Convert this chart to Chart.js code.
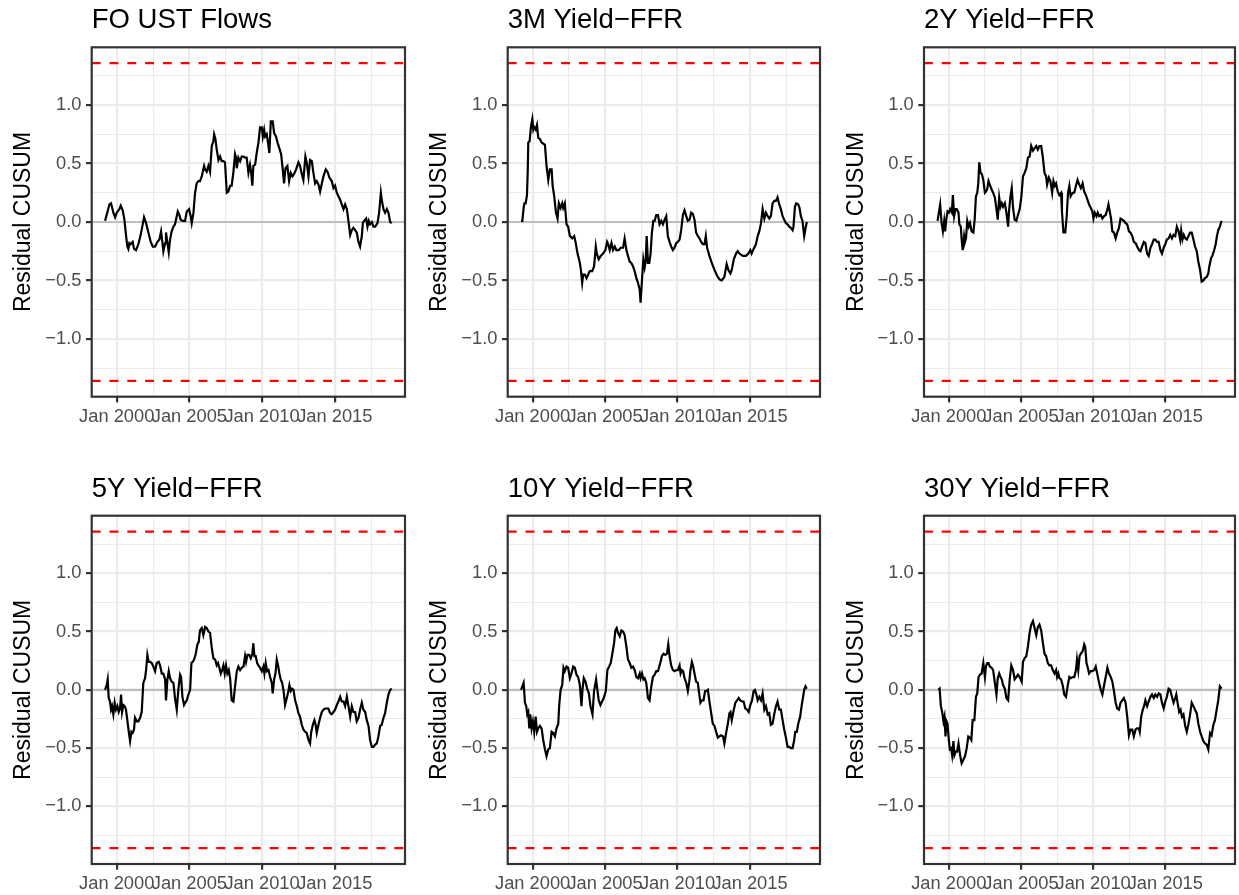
<!DOCTYPE html>
<html>
<head>
<meta charset="utf-8">
<script src="https://cdn.jsdelivr.net/npm/chart.js@4.4.1/dist/chart.umd.min.js"></script>
<style>
  html, body { margin: 0; padding: 0; background: #ffffff; }
  #wrap { position: relative; width: 1239px; height: 895px; overflow: hidden; }
  #wrap canvas { position: absolute; }
</style>
</head>
<body>
<div id="wrap"></div>
<script>
// ---- Data (decimal years, residual CUSUM values) ----

const foDates = [
  1999.20, 1999.50, 1999.61, 1999.77, 1999.89, 2000.00, 2000.18, 2000.28, 2000.41, 2000.53,
  2000.62, 2000.73, 2000.80, 2000.87, 2000.96, 2001.10, 2001.19, 2001.33, 2001.49, 2001.65,
  2001.79, 2001.88, 2002.02, 2002.18, 2002.34, 2002.48, 2002.64, 2002.80, 2002.94, 2003.05,
  2003.14, 2003.21, 2003.33, 2003.39, 2003.49, 2003.58, 2003.67, 2003.78, 2003.90, 2004.01,
  2004.13, 2004.20, 2004.31, 2004.40, 2004.54, 2004.70, 2004.82, 2004.98, 2005.09, 2005.16,
  2005.28, 2005.39, 2005.50, 2005.62, 2005.73, 2005.85, 2006.01, 2006.08, 2006.19, 2006.31,
  2006.42, 2006.54, 2006.65, 2006.70, 2006.79, 2006.88, 2007.00, 2007.11, 2007.22, 2007.34,
  2007.45, 2007.57, 2007.68, 2007.80, 2007.91, 2008.03, 2008.14, 2008.21, 2008.26, 2008.37,
  2008.49, 2008.60, 2008.72, 2008.83, 2008.94, 2009.06, 2009.17, 2009.24, 2009.33, 2009.40,
  2009.52, 2009.63, 2009.75, 2009.86, 2009.98, 2010.05, 2010.14, 2010.21, 2010.32, 2010.44,
  2010.50, 2010.60, 2010.73, 2010.83, 2010.96, 2011.06, 2011.19, 2011.31, 2011.42, 2011.51,
  2011.61, 2011.74, 2011.86, 2011.97, 2012.09, 2012.20, 2012.34, 2012.50, 2012.61, 2012.73,
  2012.84, 2012.98, 2013.07, 2013.19, 2013.30, 2013.42, 2013.53, 2013.65, 2013.76, 2013.88,
  2013.99, 2014.11, 2014.22, 2014.38, 2014.50, 2014.63, 2014.79, 2014.91, 2015.02, 2015.14,
  2015.25, 2015.37, 2015.48, 2015.60, 2015.71, 2015.83, 2015.94, 2016.06, 2016.17, 2016.28,
  2016.40, 2016.51, 2016.63, 2016.74, 2016.86, 2016.93, 2017.02, 2017.16, 2017.25, 2017.34,
  2017.43, 2017.55, 2017.66, 2017.78, 2017.94, 2018.05, 2018.17, 2018.23, 2018.35, 2018.46,
  2018.58, 2018.69, 2018.81, 2018.92
];
const foValues = [
  0.01, 0.15, 0.16, 0.08, 0.04, 0.08, 0.11, 0.14, 0.10, 0.02,
  -0.09, -0.21, -0.23, -0.18, -0.19, -0.17, -0.23, -0.24, -0.19, -0.11,
  -0.02, 0.04, -0.01, -0.09, -0.17, -0.21, -0.21, -0.17, -0.15, -0.08,
  -0.17, -0.25, -0.18, -0.09, -0.18, -0.26, -0.15, -0.08, -0.04, -0.02,
  0.05, 0.09, 0.06, 0.02, 0.01, 0.01, 0.09, 0.11, 0.05, -0.01,
  0.08, 0.25, 0.33, 0.35, 0.35, 0.39, 0.48, 0.45, 0.43, 0.48,
  0.43, 0.65, 0.69, 0.75, 0.71, 0.62, 0.53, 0.56, 0.52, 0.52,
  0.51, 0.25, 0.26, 0.31, 0.31, 0.43, 0.58, 0.55, 0.46, 0.55,
  0.52, 0.56, 0.56, 0.55, 0.55, 0.42, 0.49, 0.43, 0.31, 0.48,
  0.49, 0.59, 0.68, 0.81, 0.81, 0.73, 0.79, 0.73, 0.75, 0.65,
  0.59, 0.86, 0.86, 0.76, 0.73, 0.68, 0.63, 0.58, 0.45, 0.33,
  0.46, 0.48, 0.35, 0.42, 0.39, 0.41, 0.45, 0.51, 0.48, 0.41,
  0.36, 0.56, 0.51, 0.39, 0.53, 0.52, 0.42, 0.33, 0.35, 0.32,
  0.26, 0.33, 0.39, 0.45, 0.43, 0.38, 0.35, 0.29, 0.31, 0.25,
  0.22, 0.19, 0.15, 0.11, 0.15, 0.11, 0.01, -0.11, -0.07, -0.05,
  -0.07, -0.09, -0.17, -0.21, -0.12, -0.01, 0.01, 0.03, -0.04, 0.01,
  -0.02, 0.00, -0.04, -0.04, -0.01, 0.08, 0.25, 0.19, 0.11, 0.08,
  0.11, 0.08, 0.00, -0.01
];

const y3mDates = [
  1999.20, 1999.29, 1999.38, 1999.43, 1999.52, 1999.61, 1999.66, 1999.70, 1999.79, 1999.89,
  1999.98, 2000.05, 2000.11, 2000.21, 2000.30, 2000.39, 2000.50, 2000.62, 2000.85, 2000.96,
  2001.08, 2001.19, 2001.31, 2001.38, 2001.49, 2001.61, 2001.72, 2001.81, 2001.93, 2002.04,
  2002.11, 2002.22, 2002.34, 2002.45, 2002.57, 2002.73, 2002.87, 2002.96, 2003.10, 2003.26,
  2003.33, 2003.42, 2003.49, 2003.60, 2003.72, 2003.83, 2003.94, 2004.11, 2004.24, 2004.36,
  2004.43, 2004.56, 2004.70, 2004.86, 2005.02, 2005.14, 2005.21, 2005.32, 2005.44, 2005.55,
  2005.67, 2005.78, 2005.94, 2006.08, 2006.24, 2006.35, 2006.47, 2006.58, 2006.70, 2006.81,
  2006.93, 2007.04, 2007.16, 2007.27, 2007.39, 2007.45, 2007.55, 2007.64, 2007.73, 2007.80,
  2007.87, 2007.96, 2008.05, 2008.14, 2008.23, 2008.33, 2008.42, 2008.53, 2008.65, 2008.76,
  2008.88, 2008.99, 2009.11, 2009.22, 2009.33, 2009.45, 2009.56, 2009.68, 2009.79, 2009.91,
  2010.02, 2010.14, 2010.25, 2010.37, 2010.48, 2010.60, 2010.71, 2010.83, 2010.94, 2011.06,
  2011.17, 2011.28, 2011.40, 2011.51, 2011.63, 2011.74, 2011.86, 2011.95, 2012.04, 2012.20,
  2012.36, 2012.55, 2012.73, 2012.89, 2013.05, 2013.23, 2013.39, 2013.51, 2013.65, 2013.74,
  2013.88, 2014.04, 2014.15, 2014.27, 2014.50, 2014.72, 2014.89, 2015.02, 2015.11, 2015.25,
  2015.41, 2015.53, 2015.64, 2015.76, 2015.87, 2015.99, 2016.10, 2016.22, 2016.33, 2016.44,
  2016.56, 2016.67, 2016.79, 2016.90, 2017.02, 2017.13, 2017.25, 2017.36, 2017.48, 2017.59,
  2017.71, 2017.82, 2017.94, 2018.00, 2018.10, 2018.19, 2018.33, 2018.42, 2018.51, 2018.62,
  2018.74, 2018.81, 2018.92
];
const y3mValues = [
  0.01, 0.01, 0.12, 0.16, 0.16, 0.23, 0.42, 0.68, 0.69, 0.82,
  0.88, 0.79, 0.81, 0.79, 0.83, 0.72, 0.71, 0.68, 0.66, 0.48,
  0.36, 0.45, 0.45, 0.31, 0.22, 0.08, 0.03, 0.16, 0.12, 0.16,
  0.12, 0.16, -0.02, -0.04, -0.12, -0.14, -0.12, -0.17, -0.27, -0.35,
  -0.41, -0.52, -0.45, -0.45, -0.48, -0.45, -0.42, -0.42, -0.38, -0.21,
  -0.27, -0.32, -0.29, -0.27, -0.24, -0.17, -0.19, -0.24, -0.18, -0.24,
  -0.21, -0.24, -0.24, -0.22, -0.22, -0.14, -0.24, -0.29, -0.34, -0.35,
  -0.38, -0.42, -0.48, -0.52, -0.58, -0.69, -0.49, -0.32, -0.39, -0.34,
  -0.12, -0.35, -0.35, -0.27, -0.09, 0.01, 0.01, 0.06, 0.06, -0.02,
  0.01, -0.02, 0.02, 0.05, -0.12, -0.17, -0.21, -0.24, -0.22, -0.18,
  -0.17, -0.15, -0.07, 0.06, 0.10, 0.05, 0.01, 0.02, 0.08, 0.07,
  0.02, -0.09, -0.12, -0.14, -0.17, -0.19, -0.19, -0.12, -0.22, -0.29,
  -0.35, -0.41, -0.46, -0.49, -0.50, -0.47, -0.36, -0.41, -0.44, -0.41,
  -0.32, -0.27, -0.25, -0.27, -0.29, -0.29, -0.27, -0.24, -0.27, -0.23,
  -0.19, -0.12, -0.08, -0.01, 0.11, 0.03, 0.08, 0.05, 0.03, 0.05,
  0.16, 0.18, 0.18, 0.21, 0.15, 0.11, 0.05, 0.02, -0.01, -0.02,
  -0.04, -0.05, -0.07, -0.04, 0.13, 0.16, 0.15, 0.12, 0.05, 0.01,
  -0.12, -0.07, 0.00
];

const y2yDates = [
  1999.22, 1999.31, 1999.40, 1999.50, 1999.59, 1999.68, 1999.75, 1999.82, 1999.91, 2000.00,
  2000.09, 2000.21, 2000.28, 2000.37, 2000.46, 2000.55, 2000.67, 2000.73, 2000.83, 2000.89,
  2000.96, 2001.06, 2001.12, 2001.19, 2001.28, 2001.38, 2001.47, 2001.58, 2001.70, 2001.79,
  2001.88, 2001.97, 2002.04, 2002.11, 2002.20, 2002.29, 2002.39, 2002.50, 2002.57, 2002.66,
  2002.75, 2002.84, 2002.96, 2003.07, 2003.19, 2003.30, 2003.39, 2003.49, 2003.58, 2003.67,
  2003.76, 2003.88, 2003.99, 2004.11, 2004.17, 2004.27, 2004.36, 2004.45, 2004.56, 2004.68,
  2004.79, 2004.91, 2005.02, 2005.14, 2005.25, 2005.37, 2005.48, 2005.60, 2005.71, 2005.83,
  2005.94, 2006.06, 2006.17, 2006.28, 2006.40, 2006.51, 2006.63, 2006.74, 2006.81, 2006.93,
  2007.04, 2007.16, 2007.25, 2007.34, 2007.43, 2007.55, 2007.66, 2007.78, 2007.84, 2007.94,
  2008.07, 2008.17, 2008.26, 2008.35, 2008.44, 2008.58, 2008.69, 2008.81, 2008.92, 2009.04,
  2009.15, 2009.27, 2009.38, 2009.50, 2009.61, 2009.72, 2009.84, 2009.95, 2010.02, 2010.11,
  2010.23, 2010.32, 2010.41, 2010.53, 2010.64, 2010.76, 2010.87, 2010.99, 2011.06, 2011.15,
  2011.24, 2011.33, 2011.44, 2011.56, 2011.67, 2011.79, 2011.90, 2012.02, 2012.13, 2012.25,
  2012.36, 2012.48, 2012.59, 2012.71, 2012.82, 2012.94, 2013.05, 2013.17, 2013.28, 2013.39,
  2013.51, 2013.62, 2013.74, 2013.85, 2013.97, 2014.08, 2014.20, 2014.31, 2014.43, 2014.54,
  2014.66, 2014.77, 2014.89, 2015.00, 2015.11, 2015.23, 2015.34, 2015.46, 2015.57, 2015.69,
  2015.80, 2015.92, 2016.03, 2016.10, 2016.19, 2016.28, 2016.38, 2016.49, 2016.61, 2016.72,
  2016.83, 2016.95, 2017.06, 2017.18, 2017.29, 2017.41, 2017.52, 2017.64, 2017.75, 2017.87,
  2017.98, 2018.05, 2018.17, 2018.26, 2018.39, 2018.49, 2018.58, 2018.67, 2018.78, 2018.90
];
const y2yValues = [
  0.01, 0.08, 0.15, -0.01, -0.08, 0.01, -0.08, 0.02, 0.09, 0.08,
  0.11, 0.08, 0.23, 0.05, 0.11, 0.11, 0.08, -0.02, -0.04, -0.15,
  -0.24, -0.12, -0.17, -0.14, 0.01, -0.04, -0.01, -0.08, -0.09, 0.02,
  0.22, 0.25, 0.33, 0.51, 0.42, 0.41, 0.36, 0.25, 0.26, 0.28,
  0.35, 0.32, 0.28, 0.25, 0.21, 0.11, 0.02, 0.21, 0.13, 0.16,
  0.13, 0.16, 0.08, -0.04, 0.09, 0.22, 0.29, 0.12, 0.02, 0.01,
  0.06, 0.11, 0.21, 0.39, 0.42, 0.46, 0.55, 0.56, 0.65, 0.61,
  0.63, 0.65, 0.62, 0.65, 0.65, 0.56, 0.42, 0.39, 0.32, 0.38,
  0.35, 0.25, 0.35, 0.31, 0.33, 0.26, 0.23, 0.25, 0.09, -0.09,
  -0.09, 0.05, 0.25, 0.31, 0.22, 0.25, 0.25, 0.31, 0.36, 0.32,
  0.29, 0.33, 0.26, 0.23, 0.19, 0.15, 0.12, 0.09, 0.03, 0.08,
  0.05, 0.08, 0.05, 0.06, 0.03, 0.05, 0.06, 0.11, 0.15, 0.09,
  0.03, -0.08, -0.09, -0.14, -0.09, -0.05, 0.03, 0.02, 0.01, -0.01,
  -0.02, -0.08, -0.09, -0.12, -0.17, -0.18, -0.21, -0.24, -0.25, -0.21,
  -0.17, -0.18, -0.27, -0.29, -0.22, -0.19, -0.15, -0.15, -0.17, -0.17,
  -0.24, -0.27, -0.22, -0.19, -0.15, -0.14, -0.11, -0.14, -0.11, -0.12,
  -0.04, -0.08, -0.15, -0.07, -0.15, -0.11, -0.14, -0.15, -0.12, -0.09,
  -0.09, -0.15, -0.21, -0.25, -0.34, -0.41, -0.51, -0.50, -0.48, -0.47,
  -0.44, -0.38, -0.31, -0.29, -0.24, -0.19, -0.12, -0.07, -0.04, 0.01
];

const y5yDates = [
  1999.20, 1999.31, 1999.38, 1999.45, 1999.54, 1999.61, 1999.68, 1999.77, 1999.86, 1999.95,
  2000.05, 2000.14, 2000.23, 2000.30, 2000.37, 2000.46, 2000.55, 2000.64, 2000.73, 2000.83,
  2000.92, 2001.01, 2001.10, 2001.19, 2001.26, 2001.38, 2001.49, 2001.61, 2001.72, 2001.83,
  2001.95, 2002.02, 2002.11, 2002.20, 2002.29, 2002.41, 2002.52, 2002.64, 2002.75, 2002.89,
  2002.98, 2003.10, 2003.21, 2003.33, 2003.39, 2003.49, 2003.58, 2003.67, 2003.78, 2003.90,
  2004.01, 2004.13, 2004.24, 2004.36, 2004.43, 2004.52, 2004.63, 2004.72, 2004.82, 2004.93,
  2005.05, 2005.14, 2005.23, 2005.32, 2005.44, 2005.55, 2005.64, 2005.73, 2005.85, 2005.96,
  2006.08, 2006.19, 2006.31, 2006.42, 2006.54, 2006.65, 2006.77, 2006.88, 2006.97, 2007.06,
  2007.16, 2007.25, 2007.34, 2007.43, 2007.52, 2007.61, 2007.71, 2007.80, 2007.91, 2008.03,
  2008.14, 2008.26, 2008.37, 2008.49, 2008.60, 2008.72, 2008.83, 2008.90, 2008.99, 2009.11,
  2009.22, 2009.33, 2009.40, 2009.47, 2009.56, 2009.66, 2009.75, 2009.86, 2009.98, 2010.09,
  2010.16, 2010.25, 2010.34, 2010.44, 2010.55, 2010.67, 2010.73, 2010.83, 2010.92, 2011.01,
  2011.10, 2011.19, 2011.28, 2011.38, 2011.47, 2011.58, 2011.70, 2011.81, 2011.88, 2011.97,
  2012.06, 2012.16, 2012.27, 2012.39, 2012.50, 2012.61, 2012.73, 2012.84, 2012.96, 2013.07,
  2013.19, 2013.30, 2013.37, 2013.49, 2013.60, 2013.67, 2013.76, 2013.88, 2013.99, 2014.11,
  2014.22, 2014.33, 2014.45, 2014.56, 2014.68, 2014.79, 2014.91, 2015.02, 2015.14, 2015.25,
  2015.37, 2015.48, 2015.60, 2015.71, 2015.83, 2015.94, 2016.06, 2016.17, 2016.28, 2016.40,
  2016.51, 2016.63, 2016.74, 2016.86, 2016.97, 2017.09, 2017.20, 2017.32, 2017.43, 2017.55,
  2017.66, 2017.78, 2017.89, 2018.00, 2018.12, 2018.23, 2018.35, 2018.46, 2018.58, 2018.69,
  2018.81, 2018.92
];
const y5yValues = [
  0.00, 0.04, 0.09, -0.07, -0.10, -0.17, -0.14, -0.21, -0.11, -0.17,
  -0.14, -0.19, -0.16, -0.04, -0.19, -0.13, -0.14, -0.17, -0.26, -0.36,
  -0.44, -0.36, -0.37, -0.34, -0.24, -0.27, -0.27, -0.24, -0.19, 0.06,
  0.10, 0.17, 0.30, 0.24, 0.24, 0.23, 0.20, 0.16, 0.23, 0.24,
  0.21, 0.14, 0.14, 0.09, -0.09, 0.09, 0.16, 0.10, 0.07, 0.06,
  -0.07, -0.17, 0.00, 0.13, 0.11, -0.06, -0.13, -0.11, -0.09, -0.04,
  0.00, 0.23, 0.24, 0.26, 0.31, 0.39, 0.41, 0.51, 0.53, 0.47,
  0.54, 0.53, 0.50, 0.49, 0.36, 0.27, 0.26, 0.21, 0.23, 0.19,
  0.14, 0.17, 0.21, 0.14, 0.21, 0.14, 0.17, 0.10, -0.09, -0.10,
  0.03, 0.16, 0.20, 0.17, 0.19, 0.20, 0.29, 0.24, 0.30, 0.30,
  0.27, 0.31, 0.40, 0.29, 0.29, 0.23, 0.21, 0.19, 0.16, 0.20,
  0.14, 0.23, 0.16, 0.17, 0.11, 0.06, -0.03, 0.09, 0.14, 0.26,
  0.21, 0.14, 0.09, 0.06, 0.00, -0.13, -0.07, -0.01, 0.04, -0.01,
  0.01, 0.00, -0.09, -0.14, -0.20, -0.23, -0.30, -0.34, -0.36, -0.37,
  -0.43, -0.46, -0.37, -0.30, -0.26, -0.29, -0.37, -0.30, -0.24, -0.19,
  -0.17, -0.16, -0.16, -0.16, -0.20, -0.21, -0.19, -0.17, -0.13, -0.10,
  -0.06, -0.10, -0.10, -0.14, -0.06, -0.14, -0.23, -0.14, -0.19, -0.19,
  -0.27, -0.24, -0.17, -0.11, -0.17, -0.19, -0.26, -0.31, -0.43, -0.49,
  -0.49, -0.47, -0.46, -0.40, -0.31, -0.30, -0.24, -0.20, -0.11, -0.04,
  0.00, 0.01
];

const y10yDates = [
  1999.20, 1999.29, 1999.38, 1999.47, 1999.56, 1999.63, 1999.70, 1999.77, 1999.84, 1999.93,
  2000.02, 2000.11, 2000.21, 2000.30, 2000.39, 2000.50, 2000.62, 2000.73, 2000.85, 2000.96,
  2001.08, 2001.19, 2001.31, 2001.42, 2001.54, 2001.65, 2001.77, 2001.83, 2001.93, 2002.04,
  2002.13, 2002.22, 2002.34, 2002.45, 2002.57, 2002.68, 2002.80, 2002.91, 2003.03, 2003.14,
  2003.26, 2003.37, 2003.44, 2003.53, 2003.65, 2003.76, 2003.88, 2003.99, 2004.13, 2004.24,
  2004.38, 2004.47, 2004.56, 2004.68, 2004.79, 2004.91, 2005.05, 2005.16, 2005.28, 2005.39,
  2005.50, 2005.62, 2005.71, 2005.80, 2005.89, 2006.01, 2006.12, 2006.24, 2006.35, 2006.47,
  2006.58, 2006.70, 2006.81, 2006.93, 2007.04, 2007.16, 2007.27, 2007.39, 2007.45, 2007.55,
  2007.64, 2007.73, 2007.84, 2007.96, 2008.07, 2008.19, 2008.30, 2008.42, 2008.53, 2008.65,
  2008.76, 2008.83, 2008.92, 2009.04, 2009.15, 2009.27, 2009.36, 2009.45, 2009.56, 2009.68,
  2009.79, 2009.91, 2010.02, 2010.14, 2010.21, 2010.30, 2010.39, 2010.48, 2010.60, 2010.71,
  2010.80, 2010.89, 2010.99, 2011.08, 2011.17, 2011.28, 2011.40, 2011.49, 2011.58, 2011.67,
  2011.79, 2011.90, 2011.99, 2012.09, 2012.20, 2012.32, 2012.43, 2012.55, 2012.66, 2012.78,
  2012.89, 2013.00, 2013.14, 2013.23, 2013.35, 2013.46, 2013.58, 2013.65, 2013.74, 2013.88,
  2013.99, 2014.11, 2014.22, 2014.33, 2014.45, 2014.56, 2014.68, 2014.79, 2014.91, 2015.02,
  2015.14, 2015.25, 2015.34, 2015.44, 2015.53, 2015.64, 2015.76, 2015.87, 2015.99, 2016.10,
  2016.22, 2016.33, 2016.44, 2016.56, 2016.67, 2016.79, 2016.90, 2017.02, 2017.13, 2017.25,
  2017.36, 2017.48, 2017.59, 2017.71, 2017.82, 2017.94, 2018.05, 2018.12, 2018.23, 2018.33,
  2018.46, 2018.56, 2018.65, 2018.74, 2018.83, 2018.92
];
const y10yValues = [
  0.00, 0.03, 0.06, -0.11, -0.14, -0.21, -0.19, -0.33, -0.21, -0.33,
  -0.27, -0.36, -0.23, -0.36, -0.33, -0.31, -0.33, -0.43, -0.51, -0.57,
  -0.51, -0.50, -0.36, -0.37, -0.40, -0.33, -0.29, -0.14, 0.00, 0.04,
  0.19, 0.16, 0.20, 0.19, 0.10, 0.14, 0.20, 0.19, 0.13, 0.11,
  0.04, -0.14, 0.00, 0.10, 0.07, 0.01, -0.03, -0.14, -0.21, -0.01,
  0.09, 0.00, -0.09, -0.13, -0.10, -0.07, -0.01, 0.17, 0.20, 0.23,
  0.31, 0.40, 0.51, 0.53, 0.49, 0.46, 0.51, 0.50, 0.47, 0.37,
  0.26, 0.23, 0.19, 0.20, 0.17, 0.11, 0.10, 0.14, 0.10, 0.14,
  0.09, 0.10, 0.06, -0.07, -0.09, 0.03, 0.11, 0.13, 0.16, 0.16,
  0.21, 0.24, 0.29, 0.31, 0.30, 0.31, 0.39, 0.29, 0.21, 0.17,
  0.16, 0.17, 0.17, 0.21, 0.14, 0.17, 0.16, 0.10, 0.06, -0.01,
  0.06, 0.17, 0.24, 0.20, 0.14, 0.07, 0.06, -0.03, -0.11, -0.09,
  -0.09, -0.01, -0.01, 0.00, -0.10, -0.20, -0.29, -0.31, -0.36, -0.41,
  -0.40, -0.39, -0.40, -0.46, -0.37, -0.30, -0.20, -0.19, -0.26, -0.17,
  -0.11, -0.09, -0.07, -0.09, -0.10, -0.10, -0.16, -0.17, -0.19, -0.13,
  -0.09, -0.01, 0.00, -0.04, -0.09, -0.06, -0.09, -0.03, -0.17, -0.14,
  -0.21, -0.20, -0.30, -0.29, -0.21, -0.14, -0.10, -0.17, -0.17, -0.26,
  -0.34, -0.41, -0.49, -0.49, -0.50, -0.50, -0.43, -0.36, -0.36, -0.29,
  -0.23, -0.14, -0.07, 0.00, 0.03, 0.01
];

const y30yDates = [
  1999.27, 1999.36, 1999.45, 1999.54, 1999.63, 1999.70, 1999.77, 1999.84, 1999.91, 2000.00,
  2000.07, 2000.16, 2000.23, 2000.32, 2000.39, 2000.48, 2000.57, 2000.67, 2000.78, 2000.89,
  2001.01, 2001.12, 2001.24, 2001.35, 2001.47, 2001.56, 2001.65, 2001.77, 2001.88, 2001.97,
  2002.06, 2002.16, 2002.27, 2002.39, 2002.50, 2002.57, 2002.66, 2002.75, 2002.84, 2002.96,
  2003.07, 2003.19, 2003.30, 2003.39, 2003.49, 2003.58, 2003.67, 2003.76, 2003.88, 2003.99,
  2004.11, 2004.22, 2004.33, 2004.45, 2004.56, 2004.68, 2004.79, 2004.91, 2005.05, 2005.14,
  2005.25, 2005.37, 2005.48, 2005.60, 2005.71, 2005.83, 2005.94, 2006.06, 2006.17, 2006.28,
  2006.40, 2006.51, 2006.63, 2006.74, 2006.86, 2006.97, 2007.09, 2007.20, 2007.32, 2007.43,
  2007.50, 2007.59, 2007.66, 2007.78, 2007.89, 2008.00, 2008.12, 2008.23, 2008.35, 2008.46,
  2008.58, 2008.69, 2008.81, 2008.88, 2008.97, 2009.06, 2009.15, 2009.27, 2009.38, 2009.45,
  2009.54, 2009.63, 2009.72, 2009.84, 2009.95, 2010.07, 2010.18, 2010.30, 2010.41, 2010.53,
  2010.64, 2010.76, 2010.87, 2010.99, 2011.10, 2011.22, 2011.33, 2011.44, 2011.56, 2011.67,
  2011.79, 2011.90, 2012.02, 2012.13, 2012.25, 2012.36, 2012.48, 2012.59, 2012.71, 2012.82,
  2012.94, 2013.05, 2013.17, 2013.23, 2013.33, 2013.44, 2013.53, 2013.62, 2013.74, 2013.85,
  2013.97, 2014.08, 2014.20, 2014.31, 2014.43, 2014.54, 2014.66, 2014.77, 2014.89, 2015.00,
  2015.11, 2015.23, 2015.34, 2015.46, 2015.57, 2015.69, 2015.76, 2015.85, 2015.96, 2016.06,
  2016.15, 2016.26, 2016.38, 2016.49, 2016.61, 2016.72, 2016.83, 2016.95, 2017.06, 2017.18,
  2017.29, 2017.41, 2017.52, 2017.64, 2017.75, 2017.87, 2017.98, 2018.10, 2018.21, 2018.33,
  2018.44, 2018.56, 2018.67, 2018.78, 2018.90
];
const y30yValues = [
  0.00, 0.01, -0.14, -0.19, -0.27, -0.23, -0.40, -0.27, -0.29, -0.43,
  -0.51, -0.50, -0.56, -0.44, -0.56, -0.53, -0.53, -0.46, -0.56, -0.63,
  -0.60, -0.57, -0.50, -0.40, -0.41, -0.43, -0.26, -0.26, -0.06, -0.03,
  0.11, 0.13, 0.14, 0.23, 0.11, 0.20, 0.23, 0.23, 0.20, 0.19,
  0.17, 0.06, -0.04, 0.10, 0.14, 0.11, 0.09, 0.04, 0.01, -0.07,
  -0.09, 0.09, 0.21, 0.17, 0.09, 0.11, 0.13, 0.11, 0.07, 0.24,
  0.27, 0.29, 0.37, 0.49, 0.56, 0.59, 0.53, 0.47, 0.54, 0.56,
  0.51, 0.41, 0.31, 0.29, 0.23, 0.21, 0.21, 0.17, 0.14, 0.17,
  0.11, 0.14, 0.10, 0.09, 0.04, -0.04, -0.06, 0.03, 0.11, 0.10,
  0.11, 0.11, 0.17, 0.26, 0.17, 0.29, 0.31, 0.33, 0.39, 0.37,
  0.23, 0.19, 0.14, 0.16, 0.16, 0.17, 0.20, 0.13, 0.06, 0.00,
  -0.04, 0.04, 0.11, 0.19, 0.14, 0.11, 0.07, -0.01, -0.11, -0.16,
  -0.17, -0.11, -0.09, -0.07, -0.11, -0.23, -0.39, -0.34, -0.34, -0.40,
  -0.34, -0.33, -0.33, -0.36, -0.23, -0.17, -0.14, -0.09, -0.14, -0.10,
  -0.06, -0.04, -0.07, -0.04, -0.06, -0.03, -0.04, -0.11, -0.16, -0.10,
  -0.06, 0.01, 0.00, -0.06, -0.11, -0.07, -0.04, -0.11, -0.19, -0.17,
  -0.23, -0.21, -0.31, -0.36, -0.29, -0.21, -0.11, -0.14, -0.17, -0.20,
  -0.29, -0.36, -0.40, -0.44, -0.46, -0.47, -0.51, -0.37, -0.39, -0.30,
  -0.26, -0.17, -0.09, 0.03, 0.01
];

const panelTitles = ['FO UST Flows', '3M Yield\u2212FFR', '2Y Yield\u2212FFR',
                     '5Y Yield\u2212FFR', '10Y Yield\u2212FFR', '30Y Yield\u2212FFR'];
const panelDates = [foDates, y3mDates, y2yDates, y5yDates, y10yDates, y30yDates];
const panelValues = [foValues, y3mValues, y2yValues, y5yValues, y10yValues, y30yValues];

// 5% boundary of the OLS-CUSUM test
const critBound = 1.358;

// axis ticks and limits
const yTickValues = [-1.25, -1, -0.75, -0.5, -0.25, 0, 0.25, 0.5, 0.75, 1, 1.25];
const xTickValues = [2000, 2002.5, 2005, 2007.5, 2010, 2012.5, 2015, 2017.5];
const xTickLabels = { 2000: 'Jan 2000', 2005: 'Jan 2005', 2010: 'Jan 2010', 2015: 'Jan 2015' };
const xLimits = [1998.28, 2019.83];
const yLimits = [-1.494, 1.494];

// ---- Layout (panel plot areas, in page pixels) ----
const colLeft = [91.7, 507.7, 924];
const colWidth = [313.3, 312.3, 311];
const rowTop = [47.3, 515.7];
const rowHeight = [349.4, 348.3];

const FONT = '"Liberation Sans", Arial, Helvetica, sans-serif';
Chart.defaults.font.family = FONT;

const isMajorY = v => Math.abs(v * 2 - Math.round(v * 2)) < 1e-6;
const isMajorX = v => Math.abs(v % 5) < 1e-6;
const fmtY = v => v.toFixed(1).replace('-', '\u2212');

// panel border + panel title drawn at the chart area, ggplot style
const panelFrame = {
    id: 'panelFrame',
    afterDraw(chart, args, opts) {
        const { ctx, chartArea } = chart;
        ctx.save();
        ctx.strokeStyle = '#333333';
        ctx.lineWidth = 2.2;
        ctx.strokeRect(chartArea.left, chartArea.top,
                       chartArea.right - chartArea.left, chartArea.bottom - chartArea.top);
        ctx.fillStyle = '#000000';
        ctx.font = '27.5px ' + FONT;
        ctx.textAlign = 'left';
        ctx.textBaseline = 'alphabetic';
        ctx.fillText(opts.text, chartArea.left, chartArea.top - 19);
        ctx.restore();
    }
};

const wrap = document.getElementById('wrap');

panelTitles.forEach((title, i) => {
    const r = Math.floor(i / 3), c = i % 3;
    const cLeft = Math.floor(colLeft[c] - 92);
    const cTop = Math.floor(rowTop[r] - 47);
    const yAxisW = colLeft[c] - cLeft;
    const padTop = rowTop[r] - cTop;
    const w = Math.ceil(colLeft[c] + colWidth[c] + 4) - cLeft;
    const h = Math.ceil(rowTop[r] + rowHeight[r] + 42) - cTop;
    const padRight = w - yAxisW - colWidth[c];
    const xAxisH = h - padTop - rowHeight[r];

    const canvas = document.createElement('canvas');
    canvas.width = w;
    canvas.height = h;
    canvas.style.left = cLeft + 'px';
    canvas.style.top = cTop + 'px';
    canvas.style.width = w + 'px';
    canvas.style.height = h + 'px';
    wrap.appendChild(canvas);

    const series = panelDates[i].map((d, k) => ({ x: d, y: panelValues[i][k] }));
    const hline = y => [{ x: xLimits[0], y: y }, { x: xLimits[1], y: y }];

    new Chart(canvas.getContext('2d'), {
        type: 'line',
        data: {
            datasets: [
                { data: series, borderColor: '#000000', borderWidth: 2.2, pointRadius: 0, tension: 0, order: 0 },
                { data: hline(critBound), borderColor: '#FF0000', borderWidth: 2.2, borderDash: [8.9, 8.9], pointRadius: 0, order: 1 },
                { data: hline(-critBound), borderColor: '#FF0000', borderWidth: 2.2, borderDash: [8.9, 8.9], pointRadius: 0, order: 1 },
                { data: hline(0), borderColor: '#BEBEBE', borderWidth: 2.2, pointRadius: 0, order: 2 }
            ]
        },
        options: {
            responsive: false,
            animation: false,
            devicePixelRatio: 1,
            events: [],
            layout: { padding: { left: 0, top: padTop, right: padRight, bottom: 0 } },
            plugins: {
                legend: { display: false },
                tooltip: { enabled: false },
                panelFrame: { text: title }
            },
            scales: {
                x: {
                    type: 'linear',
                    min: xLimits[0],
                    max: xLimits[1],
                    bounds: 'data',
                    afterBuildTicks: s => { s.ticks = xTickValues.map(v => ({ value: v })); },
                    afterFit: s => { s.height = xAxisH; },
                    border: { display: false },
                    grid: {
                        color: '#EBEBEB',
                        lineWidth: ctx => isMajorX(ctx.tick.value) ? 2.2 : 1.1,
                        tickLength: 5.7,
                        tickWidth: 2.2,
                        tickColor: ctx => isMajorX(ctx.tick.value) ? '#333333' : 'rgba(0,0,0,0)'
                    },
                    ticks: {
                        autoSkip: false,
                        maxRotation: 0,
                        minRotation: 0,
                        padding: 3.1,
                        color: '#4D4D4D',
                        font: { size: 18.3, lineHeight: 1.2 },
                        callback: v => xTickLabels[v] || ''
                    }
                },
                y: {
                    type: 'linear',
                    min: yLimits[0],
                    max: yLimits[1],
                    bounds: 'data',
                    afterBuildTicks: s => { s.ticks = yTickValues.map(v => ({ value: v })); },
                    afterFit: s => { s.width = yAxisW; },
                    border: { display: false },
                    grid: {
                        color: '#EBEBEB',
                        lineWidth: ctx => isMajorY(ctx.tick.value) ? 2.2 : 1.1,
                        tickLength: 5.7,
                        tickWidth: 2.2,
                        tickColor: ctx => isMajorY(ctx.tick.value) ? '#333333' : 'rgba(0,0,0,0)'
                    },
                    ticks: {
                        autoSkip: false,
                        padding: 4.6,
                        color: '#4D4D4D',
                        font: { size: 18.3, lineHeight: 1.2 },
                        callback: v => isMajorY(v) ? fmtY(v) : ''
                    },
                    title: {
                        display: true,
                        text: 'Residual CUSUM',
                        color: '#000000',
                        font: { size: 23, lineHeight: 1.2 },
                        padding: { top: yAxisW - 67.7 - 13.8, bottom: 0 }
                    }
                }
            }
        },
        plugins: [panelFrame]
    });
});
</script>
</body>
</html>
